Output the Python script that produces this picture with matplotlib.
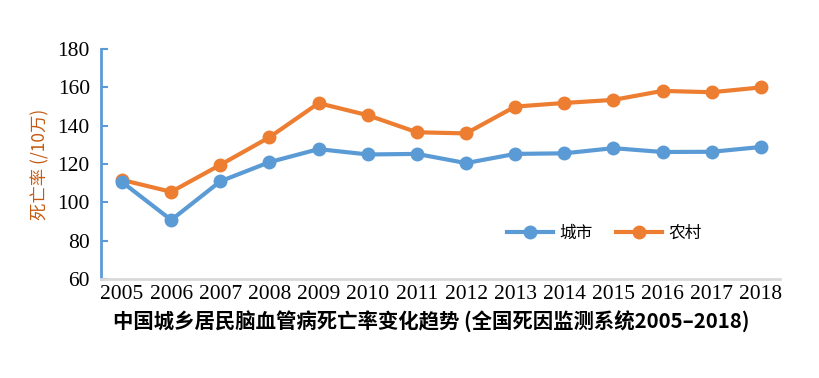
import matplotlib.pyplot as plt

plt.rcParams['font.family'] = ['Noto Sans CJK SC', 'DejaVu Sans']

years = list(range(2005, 2019))
urban = [110.6, 90.8, 111.0, 121.0, 127.8, 125.0, 125.3, 120.5, 125.3, 125.6, 128.3, 126.3, 126.4, 128.9]
rural = [111.7, 105.5, 119.6, 134.0, 151.8, 145.5, 136.6, 136.0, 150.0, 151.9, 153.5, 158.2, 157.5, 160.0]
yticks = [60, 80, 100, 120, 140, 160, 180]

blue = '#5b9bd5'
orange = '#ed7d31'

fig = plt.figure(figsize=(8.19, 3.78), dpi=100)
ax = fig.add_axes([0.1233, 0.262, 0.829, 0.608])

ax.plot(years, urban, color=blue, lw=3, marker='o', ms=9, label='城市', zorder=3)
ax.plot(years, rural, color=orange, lw=3, marker='o', ms=9, label='农村', zorder=2)

ax.set_xlim(2004.57, 2018.39)
ax.set_ylim(60, 180)
ax.set_xticks(years)
ax.set_xticklabels([str(y) for y in years], family='Liberation Serif', fontsize=15.5)
ax.set_yticks(yticks)
ax.set_yticklabels([str(v) for v in yticks], family='Liberation Serif', fontsize=15.5)

ax.tick_params(axis='y', direction='in', length=5, width=1.5, color=blue, pad=8)
ax.tick_params(axis='x', length=0, pad=4)

for s in ['top', 'right']:
    ax.spines[s].set_visible(False)
ax.spines['left'].set_color(blue)
ax.spines['left'].set_linewidth(2)
ax.spines['bottom'].set_color('#d9d9d9')
ax.spines['bottom'].set_linewidth(2)

ax.set_ylabel('死亡率 (/10万)', color='#c55a11', fontsize=12.5, labelpad=6)

ax.legend(loc='center left', bbox_to_anchor=(0.598, 0.2), ncol=2, frameon=False,
          fontsize=12, handlelength=2.75, handletextpad=0.4, columnspacing=1.4,
          borderpad=0, borderaxespad=0)

fig.text(0.138, 0.148, '中国城乡居民脑血管病死亡率变化趋势 (全国死因监测系统2005–2018)',
         fontsize=14.7, fontweight='bold', ha='left', va='center')

fig.savefig('out.png', dpi=100)
